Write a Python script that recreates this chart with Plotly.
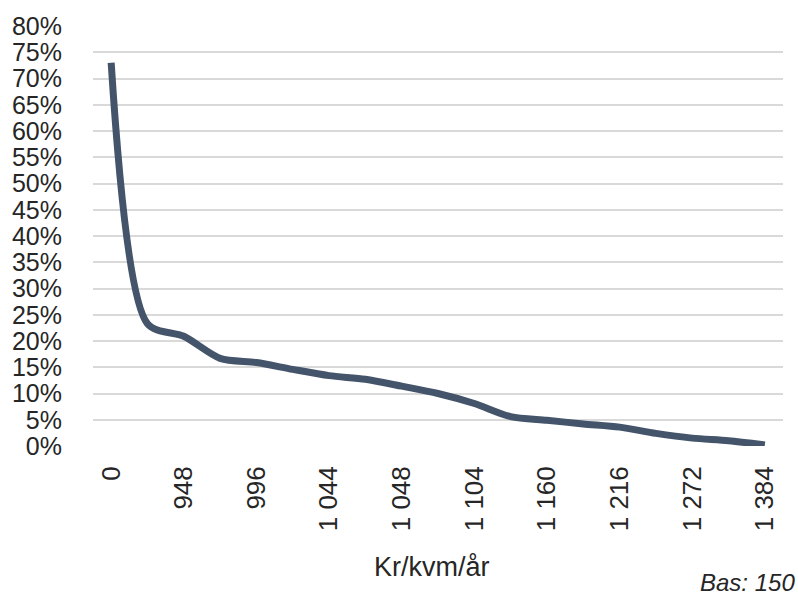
import plotly.graph_objects as go

# Data
categories = ["0", "", "948", "", "996", "", "1 044", "", "1 048", "",
              "1 104", "", "1 160", "", "1 216", "", "1 272", "", "1 384"]
shares = [0.730, 0.233, 0.209, 0.167, 0.159, 0.146, 0.134, 0.127, 0.114, 0.100,
          0.081, 0.056, 0.049, 0.042, 0.036, 0.024, 0.015, 0.010, 0.002]
y_ticks = [i * 0.05 for i in range(17)]
y_labels = [f"{i*5}%" for i in range(17)]

x_idx = list(range(len(categories)))
shown = [i for i, c in enumerate(categories) if c != ""]

FONT = "Liberation Sans"
TXT = "#262626"

fig = go.Figure()
fig.add_trace(go.Scatter(
    x=x_idx, y=shares, mode="lines",
    line=dict(color="#44546A", width=7, shape="spline", smoothing=0.8),
    hoverinfo="skip", showlegend=False,
))

fig.update_layout(
    width=798, height=603,
    margin=dict(l=90, r=15, t=21, b=157),
    paper_bgcolor="white", plot_bgcolor="white",
    font=dict(family=FONT, size=26, color=TXT),
    xaxis=dict(
        range=[-0.5, len(categories) - 0.5],
        tickmode="array",
        tickvals=shown,
        ticktext=[categories[i] for i in shown],
        tickangle=-90,
        showgrid=False, zeroline=False, showline=False,
        ticks="", ticklabelstandoff=14,
        tickfont=dict(family=FONT, size=26, color=TXT),
    ),
    yaxis=dict(
        range=[0, 0.8],
        tickmode="array", tickvals=y_ticks, ticktext=y_labels,
        showgrid=True, gridcolor="#D9D9D9", gridwidth=1.5,
        zeroline=False, showline=False, ticks="",
        ticklabelstandoff=30,
        tickfont=dict(family=FONT, size=25, color=TXT),
    ),
)

# Plot-area pixel geometry used to place the two free texts
pw = 798 - 90 - 15
ph = 603 - 21 - 157
def px_to_paper(px, py):
    return (px - 90) / pw, (446 - py) / ph

ax, ay = px_to_paper(430, 568)
bx, by = px_to_paper(797, 600)
fig.add_annotation(text="Kr/kvm/år", x=ax, y=ay, xref="paper", yref="paper",
                   showarrow=False, font=dict(family=FONT, size=27, color=TXT),
                   xanchor="center", yanchor="middle")
fig.add_annotation(text="<i>Bas: 150</i>", x=bx, y=by, xref="paper", yref="paper",
                   showarrow=False, font=dict(family=FONT, size=24, color=TXT),
                   xanchor="right", yanchor="bottom")

fig.write_html("out.html")
